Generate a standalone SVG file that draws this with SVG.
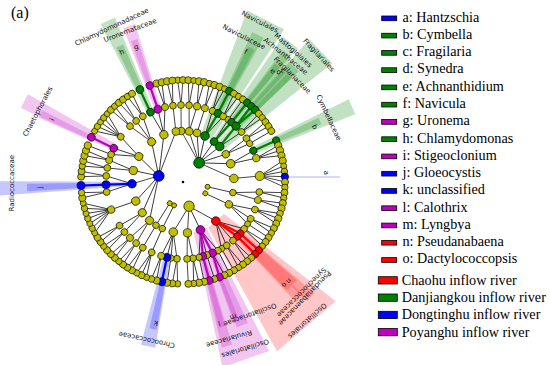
<svg xmlns="http://www.w3.org/2000/svg" width="550" height="365" viewBox="0 0 550 365">
<style>
.y{fill:#bfbf00;stroke:#000;stroke-width:.65}
.G{fill:#008000;stroke:#000;stroke-width:.65}
.B{fill:#0000ff;stroke:#000;stroke-width:.65}
.R{fill:#ff0000;stroke:#000;stroke-width:.65}
.M{fill:#bf00bf;stroke:#000;stroke-width:.65}
.cg{stroke:#008000;stroke-width:2.3}
.cb{stroke:#0000ff;stroke-width:2.3}
.cr{stroke:#ff0000;stroke-width:2.3}
.cm{stroke:#bf00bf;stroke-width:2.3}
.wg{fill:#008000;fill-opacity:.24}
.wb{fill:#0000ff;fill-opacity:.22}
.wr{fill:#ff0000;fill-opacity:.22}
.wm{fill:#bf00bf;fill-opacity:.22}
.lab{font-family:"DejaVu Sans",sans-serif;font-size:7px;fill:#111;text-anchor:middle}
.leg{font-family:"Liberation Serif",serif;font-size:14.2px;fill:#000}
.lr{stroke:#000;stroke-width:.8}
</style>
<defs>
<path id="q0" d="M102,0H77"/>
<path id="p1" d="M102,0L76.97,-2.02"/><path id="m1" d="M102,0L76.97,2.02"/>
<path id="p2" d="M102,0L76.89,-4.03"/><path id="m2" d="M102,0L76.89,4.03"/>
<path id="p3" d="M102,0L76.76,-6.04"/><path id="m3" d="M102,0L76.76,6.04"/>
<path id="p4" d="M102,0L76.58,-8.05"/><path id="m4" d="M102,0L76.58,8.05"/>
<path id="p5" d="M102,0L76.34,-10.05"/><path id="m5" d="M102,0L76.34,10.05"/>
<path id="p6" d="M102,0L76.05,-12.05"/><path id="m6" d="M102,0L76.05,12.05"/>
</defs>
<rect width="550" height="365" fill="#fff"/>
<g id="shades" transform="translate(183 182)">
<polygon class="wg" points="51,-5.81 182,-20.73 182,20.73 51,5.81" transform="rotate(-63)"/>
<polygon class="wg" points="77,-2.96 165,-6.34 165,6.34 77,2.96" transform="rotate(-63)"/>
<polygon class="wg" points="102,-2.49 150,-3.67 150,3.67 102,2.49" transform="rotate(-63)"/>
<polygon class="wg" points="51,-2.67 176,-9.22 176,9.22 51,2.67" transform="rotate(-52.5)"/>
<polygon class="wg" points="77,-2.42 165,-5.19 165,5.19 77,2.42" transform="rotate(-51)"/>
<polygon class="wg" points="102,-2.14 150,-3.14 150,3.14 102,2.14" transform="rotate(-51)"/>
<polygon class="wg" points="51,-4.46 190,-16.62 190,16.62 51,4.46" transform="rotate(-43.5)"/>
<polygon class="wg" points="77,-3.77 160,-7.82 160,7.82 77,3.77" transform="rotate(-46.5)"/>
<polygon class="wg" points="102,-2.14 150,-3.14 150,3.14 102,2.14" transform="rotate(-48)"/>
<polygon class="wg" points="102,-2.14 150,-3.14 150,3.14 102,2.14" transform="rotate(-45)"/>
<polygon class="wg" points="77,-3.36 185,-8.08 185,8.08 77,3.36" transform="rotate(-24)"/>
<polygon class="wg" points="102,-2.49 150,-3.67 150,3.67 102,2.49" transform="rotate(-24)"/>
<polygon class="wg" points="77,-3.36 178,-7.77 178,7.77 77,3.36" transform="rotate(245)"/>
<polygon class="wg" points="102,-2.67 150,-3.93 150,3.93 102,2.67" transform="rotate(245)"/>
<polygon class="wm" points="77,-2.96 165,-6.34 165,6.34 77,2.96" transform="rotate(251)"/>
<polygon class="wm" points="102,-2.32 150,-3.4 150,3.4 102,2.32" transform="rotate(251)"/>
<polygon class="wm" points="77,-3.36 178,-7.77 178,7.77 77,3.36" transform="rotate(207)"/>
<polygon class="wm" points="102,-2.67 158,-4.14 158,4.14 102,2.67" transform="rotate(205.5)"/>
<polygon class="wb" points="51,-1.96 190,-7.3 190,7.3 51,1.96" transform="rotate(178)"/>
<polygon class="wb" points="102,-2.49 156,-3.81 156,3.81 102,2.49" transform="rotate(178)"/>
<polygon class="wb" points="77,-3.36 168,-7.33 168,7.33 77,3.36" transform="rotate(102)"/>
<polygon class="wb" points="102,-2.49 150,-3.67 150,3.67 102,2.49" transform="rotate(101.5)"/>
<polygon class="wm" points="51,-6.72 188,-24.76 188,24.76 51,6.72" transform="rotate(70.5)"/>
<polygon class="wm" points="77,-2.96 155,-5.96 155,5.96 77,2.96" transform="rotate(67.5)"/>
<polygon class="wm" points="77,-2.42 170,-5.34 170,5.34 77,2.42" transform="rotate(75)"/>
<polygon class="wm" points="102,-2.14 150,-3.14 150,3.14 102,2.14" transform="rotate(69)"/>
<polygon class="wm" points="102,-2.14 150,-3.14 150,3.14 102,2.14" transform="rotate(75)"/>
<polygon class="wr" points="51,-10.38 190,-38.66 190,38.66 51,10.38" transform="rotate(49.5)"/>
<polygon class="wr" points="77,-2.42 172,-5.4 172,5.4 77,2.42" transform="rotate(42)"/>
<polygon class="wr" points="77,-2.42 165,-5.19 165,5.19 77,2.42" transform="rotate(45)"/>
<polygon class="wr" points="102,-2.14 150,-3.14 150,3.14 102,2.14" transform="rotate(42)"/>
<polygon class="wr" points="102,-2.14 150,-3.14 150,3.14 102,2.14" transform="rotate(45)"/>
<line x1="104" y1="-5" x2="157" y2="-5" stroke="#0000ff" stroke-opacity=".3" stroke-width="1.2"/>
</g>
<g id="connectors" transform="translate(183 182)" fill="none" stroke="#000" stroke-width=".7">
<path d="M51,0L18.58,16.73" transform="rotate(-92)"/>
<path d="M51,0L20.97,13.62" transform="rotate(-83)"/>
<path d="M51,0L22.84,10.17" transform="rotate(-74)"/>
<path d="M51,0L24.2,6.26" transform="rotate(-64.5)"/>
<path d="M51,0L24.98,1.09" transform="rotate(-52.5)"/>
<path d="M51,0L24.86,-2.61" transform="rotate(-44)"/>
<path d="M51,0L23.91,-7.31" transform="rotate(-33)"/>
<path d="M51,0L21.87,-12.12" transform="rotate(-21)"/>
<path d="M51,0L17.37,-17.98" transform="rotate(-4)"/>
<path d="M51,0L25,-0.44" transform="rotate(12)"/>
<path d="M51,0L25,0.44" transform="rotate(26)"/>
<path d="M51,0L22.47,10.96" transform="rotate(50)"/>
<path d="M51,0L24.86,2.61" transform="rotate(70)"/>
<path d="M51,0L24.69,-3.91" transform="rotate(85)"/>
<path d="M51,0L22.66,-10.57" transform="rotate(101)"/>
<path d="M51,0L24.97,-1.31" transform="rotate(114)"/>
<path d="M51,0H25" transform="rotate(122)"/>
<path d="M51,0L11.35,22.28" transform="rotate(131)"/>
<path d="M51,0L15.73,19.43" transform="rotate(143)"/>
<path d="M51,0L20.23,14.69" transform="rotate(158)"/>
<path d="M51,0L24.03,6.89" transform="rotate(178)"/>
<path d="M51,0L25,0.44" transform="rotate(193)"/>
<path d="M51,0L24.03,-6.89" transform="rotate(210)"/>
<path d="M51,0L19.7,-15.39" transform="rotate(232)"/>
<path d="M51,0L14.69,-20.23" transform="rotate(248)"/>
<path d="M51,0L9.37,-23.18" transform="rotate(262)"/>
<path d="M77,0L51,-0.45" transform="rotate(-91.5)"/>
<path d="M77,0L50.95,2.22" transform="rotate(-85.5)"/>
<path d="M77,0L50.9,-3.11" transform="rotate(-79.5)"/>
<path d="M77,0L51,-0.45" transform="rotate(-73.5)"/>
<path d="M77,0L50.93,2.67" transform="rotate(-67.5)"/>
<path d="M77,0L50.72,-5.33" transform="rotate(-58.5)"/>
<path d="M77,0L50.98,1.34" transform="rotate(-54)"/>
<path d="M77,0L50.9,-3.11" transform="rotate(-40.5)"/>
<path d="M77,0L50.98,1.34" transform="rotate(-34.5)"/>
<path d="M77,0L50.93,-2.67" transform="rotate(-30)"/>
<path d="M77,0L50.93,2.67" transform="rotate(-24)"/>
<path d="M77,0L50.93,-2.67" transform="rotate(-18)"/>
<path d="M77,0L51,0.45" transform="rotate(-4.5)"/>
<path d="M77,0L50.84,4" transform="rotate(7.5)"/>
<path d="M77,0L50.98,-1.34" transform="rotate(13.5)"/>
<path d="M77,0L50.81,4.44" transform="rotate(21)"/>
<path d="M77,0L50.95,-2.22" transform="rotate(28.5)"/>
<path d="M77,0L50.62,-6.22" transform="rotate(33)"/>
<path d="M77,0L49.79,11.04" transform="rotate(37.5)"/>
<path d="M77,0L51,0.45" transform="rotate(49.5)"/>
<path d="M77,0L50.77,-4.89" transform="rotate(55.5)"/>
<path d="M77,0L50.23,-8.86" transform="rotate(60)"/>
<path d="M77,0L50.62,6.22" transform="rotate(63)"/>
<path d="M77,0L50.97,-1.78" transform="rotate(72)"/>
<path d="M77,0L50.5,-7.1" transform="rotate(78)"/>
<path d="M77,0L50.95,2.22" transform="rotate(82.5)"/>
<path d="M77,0L50.97,-1.78" transform="rotate(87)"/>
<path d="M77,0L50.67,5.77" transform="rotate(94.5)"/>
<path d="M77,0L50.97,1.78" transform="rotate(99)"/>
<path d="M77,0L50.99,-0.89" transform="rotate(102)"/>
<path d="M77,0L50.77,-4.89" transform="rotate(106.5)"/>
<path d="M77,0H51" transform="rotate(114)"/>
<path d="M77,0L51,0.45" transform="rotate(121.5)"/>
<path d="M77,0L50.9,3.11" transform="rotate(127.5)"/>
<path d="M77,0L50.95,-2.22" transform="rotate(133.5)"/>
<path d="M77,0L50.9,3.11" transform="rotate(139.5)"/>
<path d="M77,0L50.95,-2.22" transform="rotate(145.5)"/>
<path d="M77,0L50.99,-0.89" transform="rotate(159)"/>
<path d="M77,0L50.77,4.89" transform="rotate(172.5)"/>
<path d="M77,0L50.67,-5.77" transform="rotate(184.5)"/>
<path d="M77,0L50.95,2.22" transform="rotate(190.5)"/>
<path d="M77,0L50.9,-3.11" transform="rotate(196.5)"/>
<path d="M77,0L50.37,7.98" transform="rotate(201)"/>
<path d="M77,0L50.88,3.56" transform="rotate(206)"/>
<path d="M77,0L50.72,-5.33" transform="rotate(216)"/>
<path d="M77,0L50.77,4.89" transform="rotate(226.5)"/>
<path d="M77,0L51,-0.45" transform="rotate(232.5)"/>
<path d="M77,0L50.67,-5.77" transform="rotate(238.5)"/>
<path d="M77,0L50.93,2.67" transform="rotate(245)"/>
<path d="M77,0L50.93,-2.67" transform="rotate(251)"/>
<path d="M77,0L50.44,-7.54" transform="rotate(256.5)"/>
<path d="M77,0L51,-0.45" transform="rotate(262.5)"/>
<use href="#m1" transform="rotate(-93)"/><use href="#p1" transform="rotate(-90)"/>
<use href="#m1" transform="rotate(-87)"/><use href="#p1" transform="rotate(-84)"/>
<use href="#m1" transform="rotate(-81)"/><use href="#p1" transform="rotate(-78)"/>
<use href="#m1" transform="rotate(-75)"/><use href="#p1" transform="rotate(-72)"/>
<use href="#m1" transform="rotate(-69)"/><use href="#p1" transform="rotate(-66)"/>
<use href="#m1" transform="rotate(-60)"/><use href="#p1" transform="rotate(-57)"/>
<use href="#q0" transform="rotate(-54)"/>
<use href="#m1" transform="rotate(-42)"/><use href="#p1" transform="rotate(-39)"/>
<use href="#m1" transform="rotate(-36)"/><use href="#p1" transform="rotate(-33)"/>
<use href="#q0" transform="rotate(-30)"/>
<use href="#m2" transform="rotate(-21)"/><use href="#q0" transform="rotate(-18)"/><use href="#p2" transform="rotate(-15)"/>
<use href="#m5" transform="rotate(-12)"/><use href="#m3" transform="rotate(-9)"/><use href="#m1" transform="rotate(-6)"/><use href="#p1" transform="rotate(-3)"/><use href="#p3" transform="rotate(0)"/><use href="#p5" transform="rotate(3)"/>
<use href="#m1" transform="rotate(6)"/><use href="#p1" transform="rotate(9)"/>
<use href="#m1" transform="rotate(12)"/><use href="#p1" transform="rotate(15)"/>
<use href="#m2" transform="rotate(18)"/><use href="#q0" transform="rotate(21)"/><use href="#p2" transform="rotate(24)"/>
<use href="#m1" transform="rotate(27)"/><use href="#p1" transform="rotate(30)"/>
<use href="#q0" transform="rotate(33)"/>
<use href="#m1" transform="rotate(36)"/><use href="#p1" transform="rotate(39)"/>
<use href="#m1" transform="rotate(48)"/><use href="#p1" transform="rotate(51)"/>
<use href="#m1" transform="rotate(54)"/><use href="#p1" transform="rotate(57)"/>
<use href="#q0" transform="rotate(60)"/>
<use href="#q0" transform="rotate(63)"/>
<use href="#m1" transform="rotate(66)"/>
<use href="#q0" transform="rotate(72)"/>
<use href="#q0" transform="rotate(78)"/>
<use href="#m1" transform="rotate(81)"/><use href="#p1" transform="rotate(84)"/>
<use href="#q0" transform="rotate(87)"/>
<use href="#m1" transform="rotate(93)"/><use href="#p1" transform="rotate(96)"/>
<use href="#q0" transform="rotate(99)"/>
<use href="#m1" transform="rotate(105)"/><use href="#p1" transform="rotate(108)"/>
<use href="#m2" transform="rotate(111)"/><use href="#q0" transform="rotate(114)"/><use href="#p2" transform="rotate(117)"/>
<use href="#m1" transform="rotate(120)"/><use href="#p1" transform="rotate(123)"/>
<use href="#m1" transform="rotate(126)"/><use href="#p1" transform="rotate(129)"/>
<use href="#m1" transform="rotate(132)"/><use href="#p1" transform="rotate(135)"/>
<use href="#m1" transform="rotate(138)"/><use href="#p1" transform="rotate(141)"/>
<use href="#m1" transform="rotate(144)"/><use href="#p1" transform="rotate(147)"/>
<use href="#m6" transform="rotate(150)"/><use href="#m4" transform="rotate(153)"/><use href="#m2" transform="rotate(156)"/><use href="#q0" transform="rotate(159)"/><use href="#p2" transform="rotate(162)"/><use href="#p4" transform="rotate(165)"/><use href="#p6" transform="rotate(168)"/>
<use href="#m1" transform="rotate(171)"/><use href="#p1" transform="rotate(174)"/>
<use href="#m1" transform="rotate(183)"/><use href="#p1" transform="rotate(186)"/>
<use href="#m1" transform="rotate(189)"/><use href="#p1" transform="rotate(192)"/>
<use href="#m1" transform="rotate(195)"/><use href="#p1" transform="rotate(198)"/>
<use href="#q0" transform="rotate(201)"/>
<use href="#m4" transform="rotate(210)"/><use href="#m2" transform="rotate(213)"/><use href="#q0" transform="rotate(216)"/><use href="#p2" transform="rotate(219)"/><use href="#p4" transform="rotate(222)"/>
<use href="#m1" transform="rotate(225)"/><use href="#p1" transform="rotate(228)"/>
<use href="#m1" transform="rotate(231)"/><use href="#p1" transform="rotate(234)"/>
<use href="#m1" transform="rotate(237)"/><use href="#p1" transform="rotate(240)"/>
<use href="#m1" transform="rotate(255)"/><use href="#p1" transform="rotate(258)"/>
<use href="#m1" transform="rotate(261)"/><use href="#p1" transform="rotate(264)"/>
<path class="cg" d="M77,0L50.98,-1.34" transform="rotate(-63)"/>
<path class="cg" d="M77,0L50.98,-1.34" transform="rotate(-51)"/>
<path class="cg" d="M77,0L50.95,2.22" transform="rotate(-46.5)"/>
<path class="cr" d="M77,0L50.5,7.1" transform="rotate(42)"/>
<path class="cr" d="M77,0L50.81,4.44" transform="rotate(45)"/>
<path class="cm" d="M77,0L50.95,2.22" transform="rotate(67.5)"/>
<path class="cm" d="M77,0L50.81,-4.44" transform="rotate(75)"/>
<path class="cb" d="M77,0H51" transform="rotate(178)"/>
<use class="cg" href="#q0" transform="rotate(-63)"/>
<use class="cg" href="#q0" transform="rotate(-51)"/>
<use class="cg" href="#m1" transform="rotate(-48)"/>
<use class="cg" href="#p1" transform="rotate(-45)"/>
<use class="cg" href="#q0" transform="rotate(-24)"/>
<use class="cr" href="#q0" transform="rotate(42)"/>
<use class="cr" href="#q0" transform="rotate(45)"/>
<use class="cm" href="#p1" transform="rotate(69)"/>
<use class="cm" href="#q0" transform="rotate(75)"/>
<use class="cb" href="#q0" transform="rotate(102)"/>
<use class="cb" href="#q0" transform="rotate(178)"/>
<use class="cm" href="#q0" transform="rotate(206)"/>
<use class="cg" href="#q0" transform="rotate(245)"/>
<use class="cm" href="#q0" transform="rotate(251)"/>
</g>
<g id="nodes" transform="translate(183 182)">
<g id="root"><circle r="1.3" fill="#000"/></g>
<g id="ph_chlorophyta" transform="rotate(194)"><circle class="B" cx="25" r="5.4"/></g>
<g id="ph_bacillariophyta" transform="rotate(-50)"><circle class="G" cx="25" r="5.4"/></g>
<g id="ph_cyanobacteria" transform="rotate(76)"><circle class="y" cx="25" r="5.2"/></g>
<g id="ph_4" transform="rotate(111)"><circle class="y" cx="25" r="2.5"/></g>
<g id="ph_5" transform="rotate(122)"><circle class="y" cx="25" r="2.5"/></g>
<g id="ph_6" transform="rotate(11)"><circle class="y" cx="25" r="2.5"/></g>
<g id="ph_7" transform="rotate(27)"><circle class="y" cx="25" r="2.5"/></g>
<g id="o_D1" transform="rotate(-92)"><circle class="y" cx="51" r="3.8"/></g>
<g id="o_D2" transform="rotate(-83)"><circle class="y" cx="51" r="3.8"/></g>
<g id="o_D3" transform="rotate(-74)"><circle class="y" cx="51" r="3.8"/></g>
<g id="o_Naviculales" transform="rotate(-64.5)"><circle class="G" cx="51" r="4.3"/></g>
<g id="o_Mastogloiales" transform="rotate(-52.5)"><circle class="G" cx="51" r="3.9"/></g>
<g id="o_Fragilariales" transform="rotate(-44)"><circle class="G" cx="51" r="4.3"/></g>
<g id="o_D7" transform="rotate(-33)"><circle class="y" cx="51" r="3.8"/></g>
<g id="o_Cymbellales" transform="rotate(-21)"><circle class="y" cx="51" r="4.3"/></g>
<g id="o_Bacillariales" transform="rotate(-4)"><circle class="y" cx="51" r="4.3"/></g>
<g id="o_E1" transform="rotate(12)"><circle class="y" cx="51" r="3.3"/></g>
<g id="o_E2" transform="rotate(26)"><circle class="y" cx="51" r="3.8"/></g>
<g id="o_Oscillatoriales_r" transform="rotate(50)"><circle class="R" cx="51" r="4.3"/></g>
<g id="o_Oscillatoriales_m" transform="rotate(70)"><circle class="M" cx="51" r="4.3"/></g>
<g id="o_C3" transform="rotate(85)"><circle class="y" cx="51" r="4.1"/></g>
<g id="o_C4" transform="rotate(101)"><circle class="y" cx="51" r="4.3"/></g>
<g id="o_F1" transform="rotate(114)"><circle class="y" cx="51" r="3.3"/></g>
<g id="o_F2" transform="rotate(122)"><circle class="y" cx="51" r="3.3"/></g>
<g id="o_G1" transform="rotate(131)"><circle class="y" cx="51" r="4.1"/></g>
<g id="o_G2" transform="rotate(143)"><circle class="y" cx="51" r="4.1"/></g>
<g id="o_G3" transform="rotate(158)"><circle class="y" cx="51" r="4.1"/></g>
<g id="o_J" transform="rotate(178)"><circle class="B" cx="51" r="4.3"/></g>
<g id="o_G5" transform="rotate(193)"><circle class="y" cx="51" r="4.1"/></g>
<g id="o_G6" transform="rotate(210)"><circle class="y" cx="51" r="4.1"/></g>
<g id="o_G7" transform="rotate(232)"><circle class="y" cx="51" r="4.1"/></g>
<g id="o_GH" transform="rotate(248)"><circle class="y" cx="51" r="4.1"/></g>
<g id="o_G9" transform="rotate(262)"><circle class="y" cx="51" r="3.8"/></g>
<g id="f_n91_5" transform="rotate(-91.5)"><circle class="y" cx="77" r="3.4"/></g>
<g id="f_n85_5" transform="rotate(-85.5)"><circle class="y" cx="77" r="3.4"/></g>
<g id="f_n79_5" transform="rotate(-79.5)"><circle class="y" cx="77" r="3.6"/></g>
<g id="f_n73_5" transform="rotate(-73.5)"><circle class="y" cx="77" r="3.4"/></g>
<g id="f_n67_5" transform="rotate(-67.5)"><circle class="y" cx="77" r="3.4"/></g>
<g id="f_Naviculaceae" transform="rotate(-63)"><circle class="G" cx="77" r="3.9"/></g>
<g id="f_n58_5" transform="rotate(-58.5)"><circle class="y" cx="77" r="3.4"/></g>
<g id="f_n54" transform="rotate(-54)"><circle class="y" cx="77" r="3.2"/></g>
<g id="f_Achnanthaceae" transform="rotate(-51)"><circle class="G" cx="77" r="3.7"/></g>
<g id="f_Fragilariaceae" transform="rotate(-46.5)"><circle class="G" cx="77" r="4.1"/></g>
<g id="f_n40_5" transform="rotate(-40.5)"><circle class="y" cx="77" r="3.4"/></g>
<g id="f_n34_5" transform="rotate(-34.5)"><circle class="y" cx="77" r="3.4"/></g>
<g id="f_n30" transform="rotate(-30)"><circle class="y" cx="77" r="3.2"/></g>
<g id="f_Cymbellaceae" transform="rotate(-24)"><circle class="G" cx="77" r="3.7"/></g>
<g id="f_n18" transform="rotate(-18)"><circle class="y" cx="77" r="3.6"/></g>
<g id="f_Bacillariaceae" transform="rotate(-4.5)"><circle class="y" cx="77" r="4.6"/></g>
<g id="f_7_5" transform="rotate(7.5)"><circle class="y" cx="77" r="3.4"/></g>
<g id="f_13_5" transform="rotate(13.5)"><circle class="y" cx="77" r="3.4"/></g>
<g id="f_21" transform="rotate(21)"><circle class="y" cx="77" r="3.4"/></g>
<g id="f_28_5" transform="rotate(28.5)"><circle class="y" cx="77" r="3.4"/></g>
<g id="f_33" transform="rotate(33)"><circle class="y" cx="77" r="3"/></g>
<g id="f_37_5" transform="rotate(37.5)"><circle class="y" cx="77" r="3.4"/></g>
<g id="f_Pseudanabaenaceae" transform="rotate(42)"><circle class="R" cx="77" r="3.7"/></g>
<g id="f_Synechococcaceae" transform="rotate(45)"><circle class="R" cx="77" r="3.7"/></g>
<g id="f_49_5" transform="rotate(49.5)"><circle class="y" cx="77" r="3.4"/></g>
<g id="f_55_5" transform="rotate(55.5)"><circle class="y" cx="77" r="3.4"/></g>
<g id="f_60" transform="rotate(60)"><circle class="y" cx="77" r="3.2"/></g>
<g id="f_63" transform="rotate(63)"><circle class="y" cx="77" r="3.4"/></g>
<g id="f_Oscillatoriaceae" transform="rotate(67.5)"><circle class="M" cx="77" r="3.9"/></g>
<g id="f_72" transform="rotate(72)"><circle class="y" cx="77" r="3.4"/></g>
<g id="f_Rivulariaceae" transform="rotate(75)"><circle class="M" cx="77" r="3.7"/></g>
<g id="f_78" transform="rotate(78)"><circle class="y" cx="77" r="3.2"/></g>
<g id="f_82_5" transform="rotate(82.5)"><circle class="y" cx="77" r="3.4"/></g>
<g id="f_87" transform="rotate(87)"><circle class="y" cx="77" r="3.4"/></g>
<g id="f_94_5" transform="rotate(94.5)"><circle class="y" cx="77" r="3.4"/></g>
<g id="f_99" transform="rotate(99)"><circle class="y" cx="77" r="3.2"/></g>
<g id="f_Chroococcaceae" transform="rotate(102)"><circle class="B" cx="77" r="3.9"/></g>
<g id="f_106_5" transform="rotate(106.5)"><circle class="y" cx="77" r="3.4"/></g>
<g id="f_114" transform="rotate(114)"><circle class="y" cx="77" r="3.4"/></g>
<g id="f_121_5" transform="rotate(121.5)"><circle class="y" cx="77" r="3.4"/></g>
<g id="f_127_5" transform="rotate(127.5)"><circle class="y" cx="77" r="3.4"/></g>
<g id="f_133_5" transform="rotate(133.5)"><circle class="y" cx="77" r="3.6"/></g>
<g id="f_139_5" transform="rotate(139.5)"><circle class="y" cx="77" r="3.4"/></g>
<g id="f_145_5" transform="rotate(145.5)"><circle class="y" cx="77" r="3.4"/></g>
<g id="f_159" transform="rotate(159)"><circle class="y" cx="77" r="3.6"/></g>
<g id="f_172_5" transform="rotate(172.5)"><circle class="y" cx="77" r="3.4"/></g>
<g id="f_Radiococcaceae" transform="rotate(178)"><circle class="B" cx="77" r="4"/></g>
<g id="f_184_5" transform="rotate(184.5)"><circle class="y" cx="77" r="3.4"/></g>
<g id="f_190_5" transform="rotate(190.5)"><circle class="y" cx="77" r="3.4"/></g>
<g id="f_196_5" transform="rotate(196.5)"><circle class="y" cx="77" r="3.4"/></g>
<g id="f_201" transform="rotate(201)"><circle class="y" cx="77" r="3.4"/></g>
<g id="f_Chaetophorales" transform="rotate(206)"><circle class="M" cx="77" r="3.9"/></g>
<g id="f_216" transform="rotate(216)"><circle class="y" cx="77" r="3.4"/></g>
<g id="f_226_5" transform="rotate(226.5)"><circle class="y" cx="77" r="3.4"/></g>
<g id="f_232_5" transform="rotate(232.5)"><circle class="y" cx="77" r="3.4"/></g>
<g id="f_238_5" transform="rotate(238.5)"><circle class="y" cx="77" r="3.4"/></g>
<g id="f_Chlamydomonadaceae" transform="rotate(245)"><circle class="G" cx="77" r="3.9"/></g>
<g id="f_Uronemataceae" transform="rotate(251)"><circle class="M" cx="77" r="3.9"/></g>
<g id="f_256_5" transform="rotate(256.5)"><circle class="y" cx="77" r="3.4"/></g>
<g id="f_262_5" transform="rotate(262.5)"><circle class="y" cx="77" r="3.4"/></g>
<g id="g_n93" transform="rotate(-93)"><circle class="y" cx="102" r="3.2"/></g>
<g id="g_n90" transform="rotate(-90)"><circle class="y" cx="102" r="3.5"/></g>
<g id="g_n87" transform="rotate(-87)"><circle class="y" cx="102" r="3.5"/></g>
<g id="g_n84" transform="rotate(-84)"><circle class="y" cx="102" r="3"/></g>
<g id="g_n81" transform="rotate(-81)"><circle class="y" cx="102" r="3.5"/></g>
<g id="g_n78" transform="rotate(-78)"><circle class="y" cx="102" r="3.6"/></g>
<g id="g_n75" transform="rotate(-75)"><circle class="y" cx="102" r="3.2"/></g>
<g id="g_n72" transform="rotate(-72)"><circle class="y" cx="102" r="3.5"/></g>
<g id="g_n69" transform="rotate(-69)"><circle class="y" cx="102" r="3.5"/></g>
<g id="g_n66" transform="rotate(-66)"><circle class="y" cx="102" r="3"/></g>
<g id="g_f_Navicula" transform="rotate(-63)"><circle class="G" cx="102" r="3.9"/></g>
<g id="g_n60" transform="rotate(-60)"><circle class="y" cx="102" r="3.5"/></g>
<g id="g_n57" transform="rotate(-57)"><circle class="y" cx="102" r="3.2"/></g>
<g id="g_n54" transform="rotate(-54)"><circle class="y" cx="102" r="3.5"/></g>
<g id="g_e_Achnanthidium" transform="rotate(-51)"><circle class="G" cx="102" r="3.7"/></g>
<g id="g_d_Synedra" transform="rotate(-48)"><circle class="G" cx="102" r="3.7"/></g>
<g id="g_c_Fragilaria" transform="rotate(-45)"><circle class="G" cx="102" r="3.9"/></g>
<g id="g_n42" transform="rotate(-42)"><circle class="y" cx="102" r="3.5"/></g>
<g id="g_n39" transform="rotate(-39)"><circle class="y" cx="102" r="3.2"/></g>
<g id="g_n36" transform="rotate(-36)"><circle class="y" cx="102" r="3.5"/></g>
<g id="g_n33" transform="rotate(-33)"><circle class="y" cx="102" r="3.5"/></g>
<g id="g_n30" transform="rotate(-30)"><circle class="y" cx="102" r="3.5"/></g>
<g id="g_b_Cymbella" transform="rotate(-24)"><circle class="G" cx="102" r="3.7"/></g>
<g id="g_n21" transform="rotate(-21)"><circle class="y" cx="102" r="3.5"/></g>
<g id="g_n18" transform="rotate(-18)"><circle class="y" cx="102" r="3.6"/></g>
<g id="g_n15" transform="rotate(-15)"><circle class="y" cx="102" r="3.5"/></g>
<g id="g_n12" transform="rotate(-12)"><circle class="y" cx="102" r="3.5"/></g>
<g id="g_n9" transform="rotate(-9)"><circle class="y" cx="102" r="3"/></g>
<g id="g_n6" transform="rotate(-6)"><circle class="y" cx="102" r="3.2"/></g>
<g id="g_a_Hantzschia" transform="rotate(-3)"><circle class="B" cx="102" r="3.7"/></g>
<g id="g_0" transform="rotate(0)"><circle class="y" cx="102" r="3.5"/></g>
<g id="g_3" transform="rotate(3)"><circle class="y" cx="102" r="3.2"/></g>
<g id="g_6" transform="rotate(6)"><circle class="y" cx="102" r="3.5"/></g>
<g id="g_9" transform="rotate(9)"><circle class="y" cx="102" r="3.2"/></g>
<g id="g_12" transform="rotate(12)"><circle class="y" cx="102" r="3.5"/></g>
<g id="g_15" transform="rotate(15)"><circle class="y" cx="102" r="3.5"/></g>
<g id="g_18" transform="rotate(18)"><circle class="y" cx="102" r="3.2"/></g>
<g id="g_21" transform="rotate(21)"><circle class="y" cx="102" r="3.5"/></g>
<g id="g_24" transform="rotate(24)"><circle class="y" cx="102" r="3.5"/></g>
<g id="g_27" transform="rotate(27)"><circle class="y" cx="102" r="3.5"/></g>
<g id="g_30" transform="rotate(30)"><circle class="y" cx="102" r="3.2"/></g>
<g id="g_33" transform="rotate(33)"><circle class="y" cx="102" r="3.5"/></g>
<g id="g_36" transform="rotate(36)"><circle class="y" cx="102" r="3.5"/></g>
<g id="g_39" transform="rotate(39)"><circle class="y" cx="102" r="3.2"/></g>
<g id="g_n_Pseudanabaena" transform="rotate(42)"><circle class="R" cx="102" r="3.7"/></g>
<g id="g_o_Dactylococcopsis" transform="rotate(45)"><circle class="R" cx="102" r="3.7"/></g>
<g id="g_48" transform="rotate(48)"><circle class="y" cx="102" r="3.5"/></g>
<g id="g_51" transform="rotate(51)"><circle class="y" cx="102" r="3.5"/></g>
<g id="g_54" transform="rotate(54)"><circle class="y" cx="102" r="3.5"/></g>
<g id="g_57" transform="rotate(57)"><circle class="y" cx="102" r="3.2"/></g>
<g id="g_60" transform="rotate(60)"><circle class="y" cx="102" r="3.5"/></g>
<g id="g_63" transform="rotate(63)"><circle class="y" cx="102" r="3.5"/></g>
<g id="g_66" transform="rotate(66)"><circle class="y" cx="102" r="3.5"/></g>
<g id="g_m_Lyngbya" transform="rotate(69)"><circle class="M" cx="102" r="3.7"/></g>
<g id="g_72" transform="rotate(72)"><circle class="y" cx="102" r="3.2"/></g>
<g id="g_l_Calothrix" transform="rotate(75)"><circle class="M" cx="102" r="3.7"/></g>
<g id="g_78" transform="rotate(78)"><circle class="y" cx="102" r="3.5"/></g>
<g id="g_81" transform="rotate(81)"><circle class="y" cx="102" r="3.5"/></g>
<g id="g_84" transform="rotate(84)"><circle class="y" cx="102" r="3.2"/></g>
<g id="g_87" transform="rotate(87)"><circle class="y" cx="102" r="3.5"/></g>
<g id="g_93" transform="rotate(93)"><circle class="y" cx="102" r="3.2"/></g>
<g id="g_96" transform="rotate(96)"><circle class="y" cx="102" r="3.5"/></g>
<g id="g_99" transform="rotate(99)"><circle class="y" cx="102" r="3.5"/></g>
<g id="g_k_unclassified" transform="rotate(102)"><circle class="B" cx="102" r="3.9"/></g>
<g id="g_105" transform="rotate(105)"><circle class="y" cx="102" r="3.5"/></g>
<g id="g_108" transform="rotate(108)"><circle class="y" cx="102" r="3.2"/></g>
<g id="g_111" transform="rotate(111)"><circle class="y" cx="102" r="3.2"/></g>
<g id="g_114" transform="rotate(114)"><circle class="y" cx="102" r="3.5"/></g>
<g id="g_117" transform="rotate(117)"><circle class="y" cx="102" r="3.2"/></g>
<g id="g_120" transform="rotate(120)"><circle class="y" cx="102" r="3.5"/></g>
<g id="g_123" transform="rotate(123)"><circle class="y" cx="102" r="3.5"/></g>
<g id="g_126" transform="rotate(126)"><circle class="y" cx="102" r="3.5"/></g>
<g id="g_129" transform="rotate(129)"><circle class="y" cx="102" r="3.2"/></g>
<g id="g_132" transform="rotate(132)"><circle class="y" cx="102" r="3.5"/></g>
<g id="g_135" transform="rotate(135)"><circle class="y" cx="102" r="3.5"/></g>
<g id="g_138" transform="rotate(138)"><circle class="y" cx="102" r="3.5"/></g>
<g id="g_141" transform="rotate(141)"><circle class="y" cx="102" r="3.2"/></g>
<g id="g_144" transform="rotate(144)"><circle class="y" cx="102" r="3.5"/></g>
<g id="g_147" transform="rotate(147)"><circle class="y" cx="102" r="3.5"/></g>
<g id="g_150" transform="rotate(150)"><circle class="y" cx="102" r="3"/></g>
<g id="g_153" transform="rotate(153)"><circle class="y" cx="102" r="3.2"/></g>
<g id="g_156" transform="rotate(156)"><circle class="y" cx="102" r="3"/></g>
<g id="g_159" transform="rotate(159)"><circle class="y" cx="102" r="3.2"/></g>
<g id="g_162" transform="rotate(162)"><circle class="y" cx="102" r="3"/></g>
<g id="g_165" transform="rotate(165)"><circle class="y" cx="102" r="3.2"/></g>
<g id="g_168" transform="rotate(168)"><circle class="y" cx="102" r="3"/></g>
<g id="g_171" transform="rotate(171)"><circle class="y" cx="102" r="3.5"/></g>
<g id="g_174" transform="rotate(174)"><circle class="y" cx="102" r="3.2"/></g>
<g id="g_j_Gloeocystis" transform="rotate(178)"><circle class="B" cx="102" r="4"/></g>
<g id="g_183" transform="rotate(183)"><circle class="y" cx="102" r="3.5"/></g>
<g id="g_186" transform="rotate(186)"><circle class="y" cx="102" r="3.5"/></g>
<g id="g_189" transform="rotate(189)"><circle class="y" cx="102" r="3.2"/></g>
<g id="g_192" transform="rotate(192)"><circle class="y" cx="102" r="3.5"/></g>
<g id="g_195" transform="rotate(195)"><circle class="y" cx="102" r="3.5"/></g>
<g id="g_198" transform="rotate(198)"><circle class="y" cx="102" r="3.5"/></g>
<g id="g_201" transform="rotate(201)"><circle class="y" cx="102" r="3.5"/></g>
<g id="g_i_Stigeoclonium" transform="rotate(206)"><circle class="M" cx="102" r="3.9"/></g>
<g id="g_210" transform="rotate(210)"><circle class="y" cx="102" r="3"/></g>
<g id="g_213" transform="rotate(213)"><circle class="y" cx="102" r="3.2"/></g>
<g id="g_216" transform="rotate(216)"><circle class="y" cx="102" r="3"/></g>
<g id="g_219" transform="rotate(219)"><circle class="y" cx="102" r="3.2"/></g>
<g id="g_222" transform="rotate(222)"><circle class="y" cx="102" r="3"/></g>
<g id="g_225" transform="rotate(225)"><circle class="y" cx="102" r="3.5"/></g>
<g id="g_228" transform="rotate(228)"><circle class="y" cx="102" r="3.2"/></g>
<g id="g_231" transform="rotate(231)"><circle class="y" cx="102" r="3.5"/></g>
<g id="g_234" transform="rotate(234)"><circle class="y" cx="102" r="3.5"/></g>
<g id="g_237" transform="rotate(237)"><circle class="y" cx="102" r="3.2"/></g>
<g id="g_240" transform="rotate(240)"><circle class="y" cx="102" r="3.5"/></g>
<g id="g_h_Chlamydomonas" transform="rotate(245)"><circle class="G" cx="102" r="3.9"/></g>
<g id="g_g_Uronema" transform="rotate(251)"><circle class="M" cx="102" r="3.7"/></g>
<g id="g_255" transform="rotate(255)"><circle class="y" cx="102" r="3.5"/></g>
<g id="g_258" transform="rotate(258)"><circle class="y" cx="102" r="3.5"/></g>
<g id="g_261" transform="rotate(261)"><circle class="y" cx="102" r="3.5"/></g>
<g id="g_264" transform="rotate(264)"><circle class="y" cx="102" r="3.5"/></g>
</g>
<g id="labels">
<text class="lab" transform="translate(111.7 26.7) rotate(-25)" dy="2.5">Chlamydomonadaceae</text>
<text class="lab" transform="translate(130 30) rotate(-21)" dy="2.5">Uronemataceae</text>
<text class="lab" transform="translate(121.7 51.7) rotate(-25)" dy="2.5">h</text>
<text class="lab" transform="translate(136 46.7) rotate(-19)" dy="2.5">g</text>
<text class="lab" transform="translate(37.5 111.5) rotate(-62)" dy="2.5">Chaetophorales</text>
<text class="lab" transform="translate(51.7 119.3) rotate(-64)" dy="2.5">i</text>
<text class="lab" transform="translate(11.7 183.3) rotate(-90)" dy="2.5">Radiococcaceae</text>
<text class="lab" transform="translate(39.3 187.3) rotate(-90)" dy="2.5">j</text>
<text class="lab" transform="translate(260 21.7) rotate(27)" dy="2.5">Naviculales</text>
<text class="lab" transform="translate(244 36.7) rotate(27)" dy="2.5">Naviculaceae</text>
<text class="lab" transform="translate(245.7 51.7) rotate(27)" dy="2.5">f</text>
<text class="lab" transform="translate(293.3 50) rotate(42)" dy="2.5">Mastogloiales</text>
<text class="lab" transform="translate(285.8 55.8) rotate(39)" dy="2.5">Achnanthaceae</text>
<text class="lab" transform="translate(292.5 75) rotate(45)" dy="2.5">Fragilariaceae</text>
<text class="lab" transform="translate(319 55) rotate(47)" dy="2.5">Fragilariales</text>
<text class="lab" transform="translate(273 71) rotate(40)" dy="2.5">e</text>
<text class="lab" transform="translate(279 72) rotate(42)" dy="2.5">d</text>
<text class="lab" transform="translate(283.5 70.5) rotate(45)" dy="2.5">c</text>
<text class="lab" transform="translate(329 117.5) rotate(65)" dy="2.5">Cymbellaceae</text>
<text class="lab" transform="translate(315 126.7) rotate(66)" dy="2.5">b</text>
<text class="lab" transform="translate(326.7 172.7) rotate(87)" dy="2.5">a</text>
<text class="lab" transform="translate(146.7 340) rotate(192)" dy="2.5">Chroococcaceae</text>
<text class="lab" transform="translate(156 323.3) rotate(191)" dy="2.5">k</text>
<text class="lab" transform="translate(229 339) rotate(164)" dy="2.5">Rivulariaceae</text>
<text class="lab" transform="translate(219.3 323.3) rotate(165)" dy="2.5">l</text>
<text class="lab" transform="translate(233.3 316.7) rotate(159)" dy="2.5">m</text>
<text class="lab" transform="translate(250 315) rotate(160)" dy="2.5">Oscillatoriaceae</text>
<text class="lab" transform="translate(245.3 348.7) rotate(163)" dy="2.5">Oscillatoriales</text>
<text class="lab" transform="translate(307.5 320.8) rotate(138)" dy="2.5">Oscillatoriales</text>
<text class="lab" transform="translate(305 298.3) rotate(134)" dy="2.5">Pseudanabaenaceae</text>
<text class="lab" transform="translate(301.7 292.5) rotate(135)" dy="2.5">Synechococcaceae</text>
<text class="lab" transform="translate(284.3 285) rotate(135)" dy="2.5">o</text>
<text class="lab" transform="translate(289 281) rotate(135)" dy="2.5">n</text>
</g>
<text id="panel" x="11" y="17.5" font-family="Liberation Serif, serif" font-size="16">(a)</text>
<g id="legend">
<g id="lg_a"><rect class="lr" x="381.7" y="16" width="15" height="4.7" fill="#0000ff"/><text class="leg" x="402.5" y="21.7">a: Hantzschia</text></g>
<g id="lg_b"><rect class="lr" x="381.7" y="33.26" width="15" height="4.7" fill="#008000"/><text class="leg" x="402.5" y="38.96">b: Cymbella</text></g>
<g id="lg_c"><rect class="lr" x="381.7" y="50.52" width="15" height="4.7" fill="#008000"/><text class="leg" x="402.5" y="56.22">c: Fragilaria</text></g>
<g id="lg_d"><rect class="lr" x="381.7" y="67.78" width="15" height="4.7" fill="#008000"/><text class="leg" x="402.5" y="73.48">d: Synedra</text></g>
<g id="lg_e"><rect class="lr" x="381.7" y="85.04" width="15" height="4.7" fill="#008000"/><text class="leg" x="402.5" y="90.74">e: Achnanthidium</text></g>
<g id="lg_f"><rect class="lr" x="381.7" y="102.3" width="15" height="4.7" fill="#008000"/><text class="leg" x="402.5" y="108">f: Navicula</text></g>
<g id="lg_g"><rect class="lr" x="381.7" y="119.56" width="15" height="4.7" fill="#bf00bf"/><text class="leg" x="402.5" y="125.26">g: Uronema</text></g>
<g id="lg_h"><rect class="lr" x="381.7" y="136.82" width="15" height="4.7" fill="#008000"/><text class="leg" x="402.5" y="142.52">h: Chlamydomonas</text></g>
<g id="lg_i"><rect class="lr" x="381.7" y="154.08" width="15" height="4.7" fill="#bf00bf"/><text class="leg" x="402.5" y="159.78">i: Stigeoclonium</text></g>
<g id="lg_j"><rect class="lr" x="381.7" y="171.34" width="15" height="4.7" fill="#0000ff"/><text class="leg" x="402.5" y="177.04">j: Gloeocystis</text></g>
<g id="lg_k"><rect class="lr" x="381.7" y="188.6" width="15" height="4.7" fill="#0000ff"/><text class="leg" x="402.5" y="194.3">k: unclassified</text></g>
<g id="lg_l"><rect class="lr" x="381.7" y="205.86" width="15" height="4.7" fill="#bf00bf"/><text class="leg" x="402.5" y="211.56">l: Calothrix</text></g>
<g id="lg_m"><rect class="lr" x="381.7" y="223.12" width="15" height="4.7" fill="#bf00bf"/><text class="leg" x="402.5" y="228.82">m: Lyngbya</text></g>
<g id="lg_n"><rect class="lr" x="381.7" y="240.38" width="15" height="4.7" fill="#ff0000"/><text class="leg" x="402.5" y="246.08">n: Pseudanabaena</text></g>
<g id="lg_o"><rect class="lr" x="381.7" y="257.64" width="15" height="4.7" fill="#ff0000"/><text class="leg" x="402.5" y="263.34">o: Dactylococcopsis</text></g>
<g id="lg_chaohu"><rect class="lr" x="378.3" y="276.7" width="19" height="7.3" fill="#ff0000"/><text class="leg" x="401.7" y="284.8">Chaohu inflow river</text></g>
<g id="lg_danjiangkou"><rect class="lr" x="378.3" y="294" width="19" height="7.3" fill="#008000"/><text class="leg" x="401.7" y="302.1">Danjiangkou inflow river</text></g>
<g id="lg_dongtinghu"><rect class="lr" x="378.3" y="311.3" width="19" height="7.3" fill="#0000ff"/><text class="leg" x="401.7" y="319.4">Dongtinghu inflow river</text></g>
<g id="lg_poyanghu"><rect class="lr" x="378.3" y="328.5" width="19" height="7.3" fill="#bf00bf"/><text class="leg" x="401.7" y="336.6">Poyanghu inflow river</text></g>
</g>
</svg>
